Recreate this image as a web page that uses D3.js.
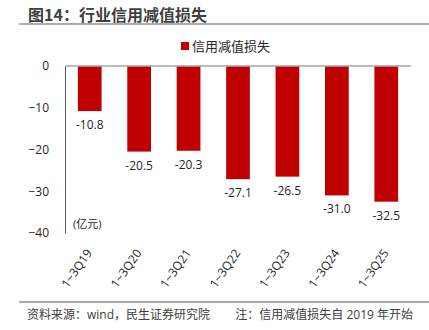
<!DOCTYPE html>
<html>
<head>
<meta charset="utf-8">
<script src="https://cdn.jsdelivr.net/npm/d3@7"></script>
<style>
  body { margin: 0; background: #fff; }
  svg { display: block; font-family: "Open Sans", "Noto Sans CJK SC", sans-serif; }
</style>
</head>
<body>
<svg id="chart" width="429" height="330"></svg>
<script>
const categories = ['1~3Q19', '1~3Q20', '1~3Q21', '1~3Q22', '1~3Q23', '1~3Q24', '1~3Q25'];
const lossValues = [-10.8, -20.5, -20.3, -27.1, -26.5, -31.0, -32.5];
const yTicks = [0, -10, -20, -30, -40];

const svg = d3.select('#chart');
const fontStack = '"Open Sans", "Noto Sans CJK SC", sans-serif';
const barColor = '#C00000';

// title + rule
svg.append('text')
    .attr('x', 28).attr('y', 21)
    .attr('font-size', 16).attr('font-weight', 'bold')
    .attr('fill', '#404040')
    .attr('font-family', '"Noto Sans CJK SC", sans-serif')
    .text('图14：行业信用减值损失');
svg.append('line')
    .attr('x1', 19).attr('x2', 429).attr('y1', 24).attr('y2', 24)
    .attr('stroke', '#595959').attr('stroke-width', 1.2);

const xScale = d3.scaleBand()
    .domain(categories)
    .range([65, 411])
    .paddingInner(0.52)
    .paddingOuter(0.26);

const yScale = d3.scaleLinear()
    .domain([-40, 0])
    .range([233, 66]);

// legend
svg.append('rect')
    .attr('x', 181).attr('y', 42).attr('width', 8).attr('height', 8)
    .attr('fill', barColor);
svg.append('text')
    .attr('x', 192).attr('y', 51)
    .attr('font-size', 13).attr('fill', '#262626')
    .text('信用减值损失');

// bars
svg.append('g').selectAll('rect')
    .data(lossValues)
    .join('rect')
    .attr('x', (d, i) => xScale(categories[i]))
    .attr('y', yScale(0))
    .attr('width', xScale.bandwidth())
    .attr('height', d => yScale(d) - yScale(0))
    .attr('fill', barColor);

// value labels
svg.append('g').selectAll('text')
    .data(lossValues)
    .join('text')
    .attr('x', (d, i) => xScale(categories[i]) + xScale.bandwidth() / 2)
    .attr('y', d => yScale(d) + 18)
    .attr('text-anchor', 'middle')
    .attr('font-size', 12)
    .attr('fill', '#262626')
    .text(d => d.toFixed(1));

// y axis
const yAxis = d3.axisLeft(yScale).tickValues(yTicks).tickSize(0).tickPadding(16);
const yG = svg.append('g')
    .attr('transform', 'translate(65,0)')
    .call(yAxis);
yG.select('.domain').attr('stroke', '#595959');
yG.selectAll('text')
    .attr('font-size', 12).attr('fill', '#262626')
    .attr('font-family', fontStack);

// zero line
svg.append('line')
    .attr('x1', 65).attr('x2', 411)
    .attr('y1', yScale(0)).attr('y2', yScale(0))
    .attr('stroke', '#A6A6A6').attr('stroke-width', 1.5);

// x axis labels (rotated)
const xAxis = d3.axisBottom(xScale).tickSize(0).tickPadding(0);
const xG = svg.append('g')
    .attr('transform', 'translate(0,' + yScale(-40) + ')')
    .call(xAxis);
xG.select('.domain').remove();
xG.selectAll('text')
    .attr('font-size', 12).attr('fill', '#262626')
    .attr('font-family', fontStack)
    .attr('text-anchor', 'end')
    .attr('dy', 0)
    .attr('transform', 'translate(3,20) rotate(-55)');

// unit
svg.append('text')
    .attr('x', 73).attr('y', 228)
    .attr('font-size', 11).attr('fill', '#262626')
    .text('(亿元)');

// footer
svg.append('line')
    .attr('x1', 19).attr('x2', 429).attr('y1', 302).attr('y2', 302)
    .attr('stroke', '#595959').attr('stroke-width', 1.2);
svg.append('text')
    .attr('x', 27).attr('y', 319)
    .attr('font-size', 12).attr('fill', '#404040')
    .text('资料来源：wind，民生证券研究院');
svg.append('text')
    .attr('x', 413).attr('y', 319)
    .attr('text-anchor', 'end')
    .attr('font-size', 12).attr('fill', '#404040')
    .text('注：信用减值损失自 2019 年开始');
</script>
</body>
</html>
